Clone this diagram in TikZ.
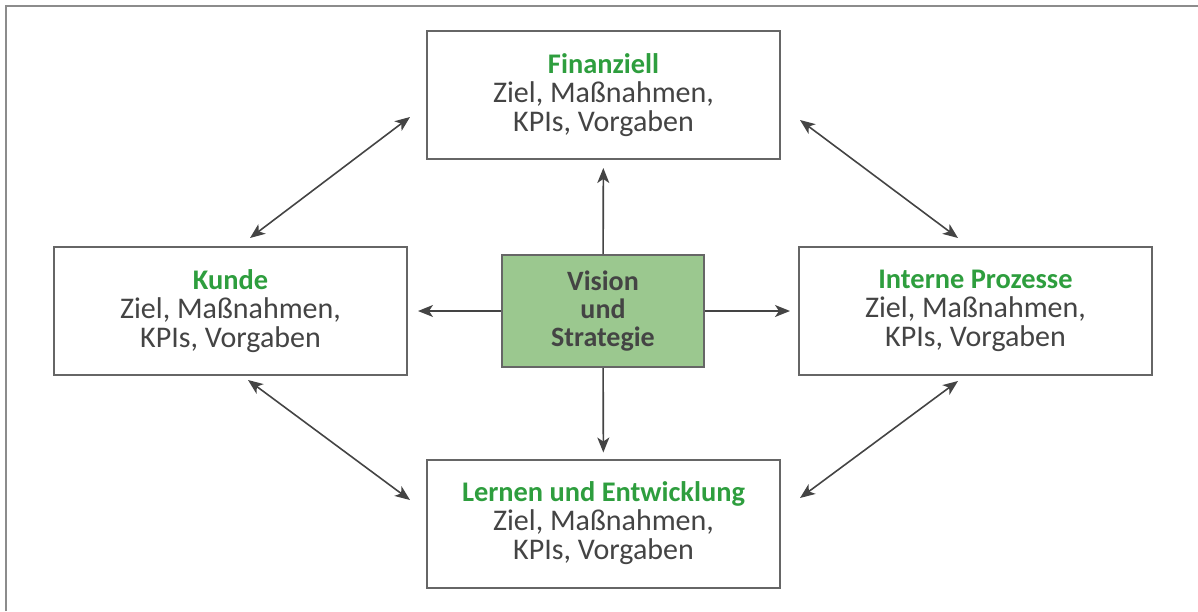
\documentclass[tikz,border=0pt]{standalone}
\usepackage{fontspec}
\setmainfont{Carlito}
\usetikzlibrary{arrows.meta}
\definecolor{titelgruen}{HTML}{2E9E3E}
\definecolor{kastengruen}{HTML}{9BC88F}
\definecolor{textgrau}{HTML}{444444}
\definecolor{randgrau}{HTML}{666666}
\tikzset{
  feld/.style={draw=randgrau, line width=1pt, fill=white, minimum width=176.5pt,
    minimum height=64pt, align=center, text=textgrau,
    font=\fontsize{15}{14.5}\selectfont},
  kern/.style={feld, fill=kastengruen, minimum width=101pt, minimum height=56pt,
    font=\fontsize{14}{14}\selectfont\bfseries},
  pfeil/.style={draw=textgrau, line width=0.8pt, -{Stealth[length=7.5pt,width=6pt,inset=2pt]}},
  doppel/.style={pfeil, {Stealth[length=7.5pt,width=6pt,inset=2pt]}-{Stealth[length=7.5pt,width=6pt,inset=2pt]}}
}
\newcommand{\titel}[1]{\textcolor{titelgruen}{\fontsize{14.2}{14.5}\selectfont\bfseries #1}}
\begin{document}
\begin{tikzpicture}[x=0.5pt,y=-0.5pt]
\useasboundingbox (0,0) rectangle (1198,611);
\draw[color=gray!90, line width=1pt] (5.5,611) -- (5.5,5.5) -- (1198,5.5);
\path (603.5,95) node[feld] (fin) {\titel{Finanziell}\\Ziel, Maßnahmen,\\KPIs, Vorgaben}
      (230.5,311) node[feld] (kunde) {\titel{Kunde}\\Ziel, Maßnahmen,\\KPIs, Vorgaben}
      (975.5,311) node[feld] (proz) {\titel{Interne Prozesse}\\Ziel, Maßnahmen,\\KPIs, Vorgaben}
      (603.5,523.5) node[feld] (lern) {\titel{Lernen und Entwicklung}\\Ziel, Maßnahmen,\\KPIs, Vorgaben}
      (603,311) node[kern] (vis) {Vision\\und\\Strategie}
      ;
\path (250,238) coordinate (k-f)
      (410,117) coordinate (f-k)
      (800,120) coordinate (f-p)
      (958,238) coordinate (p-f)
      (248,380) coordinate (k-l)
      (410,500) coordinate (l-k)
      (800,498) coordinate (l-p)
      (958,381) coordinate (p-l);
\draw[pfeil, shorten >=4pt] (vis) -- (fin);
\draw[pfeil, shorten >=3pt] (vis) -- (lern);
\draw[pfeil, shorten >=5pt] (vis) -- (kunde);
\draw[pfeil, shorten >=4pt] (vis) -- (proz);
\draw[doppel] (k-f) -- (f-k);
\draw[doppel] (f-p) -- (p-f);
\draw[doppel] (k-l) -- (l-k);
\draw[doppel] (l-p) -- (p-l);
\end{tikzpicture}
\end{document}
